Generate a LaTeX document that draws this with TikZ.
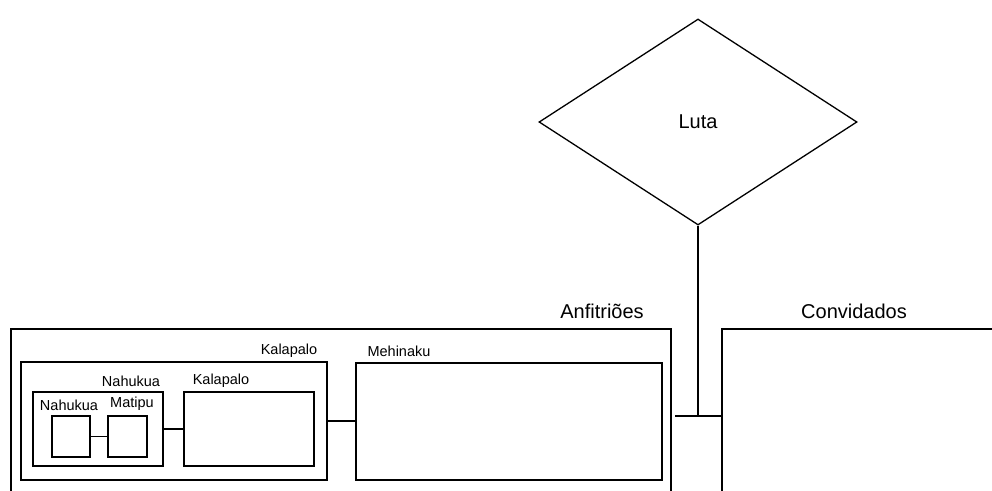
\documentclass[tikz,border=0pt]{standalone}
\usepackage{fontspec}
\setmainfont{Liberation Sans}
\usetikzlibrary{shapes.geometric}
\begin{document}
\begin{tikzpicture}[x=1pt, y=-1pt, line width=1.3pt,
  box/.style={draw, rectangle, inner sep=0pt},
  biglabel/.style={font=\fontsize{20}{24}\selectfont, inner sep=0pt},
  smalllabel/.style={font=\fontsize{14.5}{17}\selectfont, inner sep=0pt},
  link/.style={draw}]
\useasboundingbox (0,0) rectangle (992,490);
\clip (0,0) rectangle (992,490);

% decision diamond
\node[draw, diamond, inner sep=0pt, minimum width=318pt, minimum height=206pt,
      font=\fontsize{20}{24}\selectfont] (luta) at (698,122) {Luta};

% the two groups, running off the lower and right edges
\draw (11,510) |- (671,329) -- (671,510);
\coordinate (anfR) at (675,416);
\draw (722,510) |- (1010,329);
\coordinate (convL) at (722,416);
\node[biglabel] (anfLbl) at (602,311) {Anfitriões};
\node[biglabel] (convLbl) at (854,311) {Convidados};

% junction joining the groups to the diamond
\coordinate (junction) at (698,416);
\draw (anfR) -- (convL);
\draw (luta.south) -- (junction);

% host side nesting
\node[box, minimum width=306pt, minimum height=118pt] (kalOuter) at (174,421) {};
\node[smalllabel] (kalOuterLbl) at (289,351) {Kalapalo};

\node[box, minimum width=130pt, minimum height=74pt] (nahBox) at (98,429) {};
\node[smalllabel] (nahBoxLbl) at (131,381) {Nahukua};

\node[box, minimum width=38pt, minimum height=41pt] (nahSmall) at (71,436.5) {};
\node[smalllabel] (nahSmallLbl) at (69,405) {Nahukua};

\node[box, minimum width=39pt, minimum height=41pt] (matipu) at (127.5,436.5) {};
\node[smalllabel] (matipuLbl) at (132,404) {Matipu};

\node[box, minimum width=130pt, minimum height=74pt] (kalInner) at (249,429) {};
\node[smalllabel] (kalInnerLbl) at (221,381) {Kalapalo};

\node[box, minimum width=306pt, minimum height=117pt] (mehinaku) at (509,421.5) {};
\node[smalllabel] (mehinakuLbl) at (399,351) {Mehinaku};

% links between the nested groups
\draw[link] (nahSmall.east) -- (nahSmall.east -| matipu.west);
\draw[link] (nahBox.east) -- (nahBox.east -| kalInner.west);
\draw[link] (kalOuter.east) -- (kalOuter.east -| mehinaku.west);
\end{tikzpicture}
\end{document}
